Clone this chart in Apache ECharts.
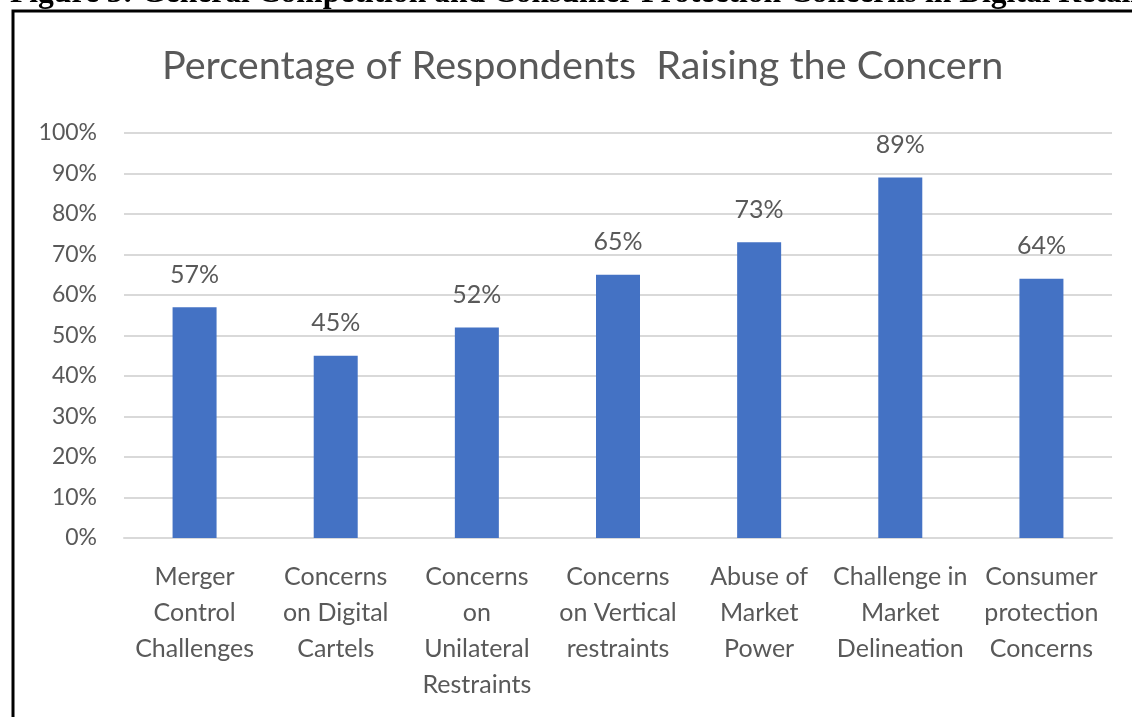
<!DOCTYPE html>
<html>
<head>
<meta charset="utf-8">
<script src="https://cdn.jsdelivr.net/npm/echarts@6/dist/echarts.min.js"></script>
<style>
  html, body { margin: 0; padding: 0; background: #ffffff; }
  #chart { width: 1132px; height: 717px; }
</style>
</head>
<body>
<div id="chart"></div>
<script>
// Survey results: share of respondents raising each concern
const categories = [
  'Merger\nControl\nChallenges',
  'Concerns\non Digital\nCartels',
  'Concerns\non\nUnilateral\nRestraints',
  'Concerns\non Vertical\nrestraints',
  'Abuse of\nMarket\nPower',
  'Challenge in\nMarket\nDelineation',
  'Consumer\nprotection\nConcerns'
];
const percentages = [57, 45, 52, 65, 73, 89, 64];

const figureCaption = 'Figure 3: General Competition and Consumer Protection Concerns in Digital Retail Markets';
const chartTitle = 'Percentage of Respondents  Raising the Concern';

const textGray = '#595959';
const gridGray = '#d9d9d9';
const barBlue = '#4472c4';
const uiFont = 'Lato, "Open Sans", sans-serif';

const chart = echarts.init(document.getElementById('chart'), null, { renderer: 'canvas' });

chart.setOption({
  backgroundColor: '#ffffff',
  animation: false,
  title: {
    text: chartTitle,
    left: 157,
    top: 41,
    textStyle: {
      color: textGray,
      fontFamily: uiFont,
      fontSize: 39.6,
      fontWeight: 'normal'
    }
  },
  graphic: [
    {
      type: 'text',
      x: 10,
      y: -22,
      style: {
        text: figureCaption,
        fontFamily: '"Liberation Serif", "Times New Roman", serif',
        fontWeight: 'bold',
        fontSize: 31.6,
        verticalAlign: 'top',
        fill: '#000000'
      }
    },
    {
      type: 'rect',
      shape: { x: 13, y: 11, width: 1130, height: 720 },
      style: { fill: 'none', stroke: '#000000', lineWidth: 3 }
    }
  ],
  grid: {
    left: 124,
    right: 20,
    top: 133,
    bottom: 179,
    containLabel: false
  },
  xAxis: {
    type: 'category',
    data: categories,
    axisLine: { show: true, lineStyle: { color: gridGray, width: 2 } },
    axisTick: { show: false },
    axisLabel: {
      interval: 0,
      color: textGray,
      fontFamily: uiFont,
      fontSize: 25,
      lineHeight: 36,
      margin: 21
    }
  },
  yAxis: {
    type: 'value',
    min: 0,
    max: 100,
    interval: 10,
    axisLine: { show: false },
    axisTick: { show: false },
    splitLine: { lineStyle: { color: gridGray, width: 2 } },
    axisLabel: {
      formatter: '{value}%',
      color: textGray,
      fontFamily: uiFont,
      fontSize: 23,
      margin: 27
    }
  },
  series: [
    {
      type: 'bar',
      data: percentages,
      barWidth: 44,
      itemStyle: { color: barBlue },
      label: {
        show: true,
        position: 'top',
        distance: 20,
        formatter: '{c}%',
        color: textGray,
        fontFamily: uiFont,
        fontSize: 25
      }
    }
  ]
});
</script>
</body>
</html>
